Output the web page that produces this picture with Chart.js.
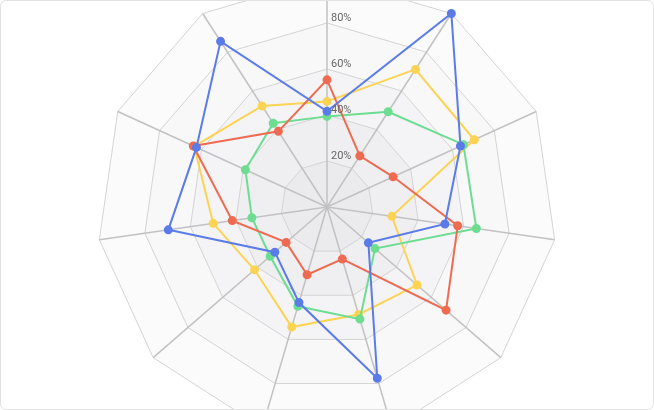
<!DOCTYPE html>
<html>
<head>
<meta charset="utf-8">
<script src="https://cdn.jsdelivr.net/npm/chart.js@4/dist/chart.umd.min.js"></script>
<style>
  html, body { margin: 0; padding: 0; background: #fff; }
  .card { position: relative; width: 652px; height: 408px; border: 1px solid #e2e2e2; border-radius: 6px; overflow: hidden; background: #fff; }
  .wrap { position: absolute; left: -1px; top: -24px; width: 654px; height: 460px; }
</style>
</head>
<body>
<div class="card"><div class="wrap"><canvas id="radar"></canvas></div></div>
<script>
const categories = ["A", "B", "C", "D", "E", "F", "G", "H", "I", "J", "K"];
const tickLabels = [20, 40, 60, 80];
const blueValues = [41.6, 100, 63.8, 51.8, 23.8, 77.6, 43.3, 30, 69.7, 62.4, 85.6];
const redValues = [55.3, 26.4, 31.6, 57.4, 68.5, 23.6, 30.7, 23.5, 41.6, 63.9, 39.1];
const greenValues = [39.4, 49.2, 65.2, 65.6, 27.6, 50.8, 45, 32.7, 33, 39, 43.3];
const yellowValues = [45.9, 71.1, 70.4, 28.5, 51.8, 48.7, 54.4, 41.7, 50, 63.5, 52.2];

const ringColors = ["#ebebee", "#efeff2", "#f4f4f6", "#f8f8f9", "#fbfbfb"];

// fills the rings under the grid and writes the % labels
const ringPlugin = {
    id: "rings",
    beforeDraw(chart) {
        const scale = chart.scales.r, ctx = chart.ctx;
        const n = categories.length;
        for (let r = ringColors.length - 1; r >= 0; r--) {
            const dist = scale.getDistanceFromCenterForValue((r + 1) * 20);
            ctx.beginPath();
            for (let i = 0; i < n; i++) {
                const p = scale.getPointPosition(i, dist);
                if (i === 0) ctx.moveTo(p.x, p.y); else ctx.lineTo(p.x, p.y);
            }
            ctx.closePath();
            ctx.fillStyle = ringColors[r];
            ctx.fill();
        }
    },
    afterDatasetsDraw(chart) {
        const scale = chart.scales.r, ctx = chart.ctx;
        ctx.save();
        ctx.font = "11px Roboto, sans-serif";
        ctx.fillStyle = "#666";
        ctx.textAlign = "left";
        ctx.textBaseline = "bottom";
        tickLabels.forEach(v => {
            const d = scale.getDistanceFromCenterForValue(v);
            ctx.fillText(v + "%", scale.xCenter + 4, scale.yCenter - d + 1);
        });
        ctx.restore();
    }
};

const makeSet = function(label, data, color) {
    return {
        label: label, data: data, borderColor: color, backgroundColor: color,
        pointBackgroundColor: color, pointBorderColor: color,
        borderWidth: 2, pointRadius: 3.5, fill: false
    };
};

new Chart(document.getElementById("radar"), {
    type: "radar",
    data: {
        labels: categories,
        datasets: [
            makeSet("Blue", blueValues, "#5b7be9"),
            makeSet("Red", redValues, "#ee6b52"),
            makeSet("Green", greenValues, "#6ddd91"),
            makeSet("Yellow", yellowValues, "#fcd352")
        ]
    },
    options: {
        responsive: true,
        maintainAspectRatio: false,
        animation: false,
        layout: { padding: 0 },
        plugins: { legend: { display: false }, tooltip: { enabled: false } },
        elements: { line: { tension: 0 } },
        scales: {
            r: {
                min: 0, max: 100,
                ticks: { display: false, stepSize: 20 },
                pointLabels: { display: false },
                grid: { color: "#d4d4d4", lineWidth: 1 },
                angleLines: { color: "#c2c2c2", lineWidth: 1.5 }
            }
        }
    },
    plugins: [ringPlugin]
});
</script>
</body>
</html>
